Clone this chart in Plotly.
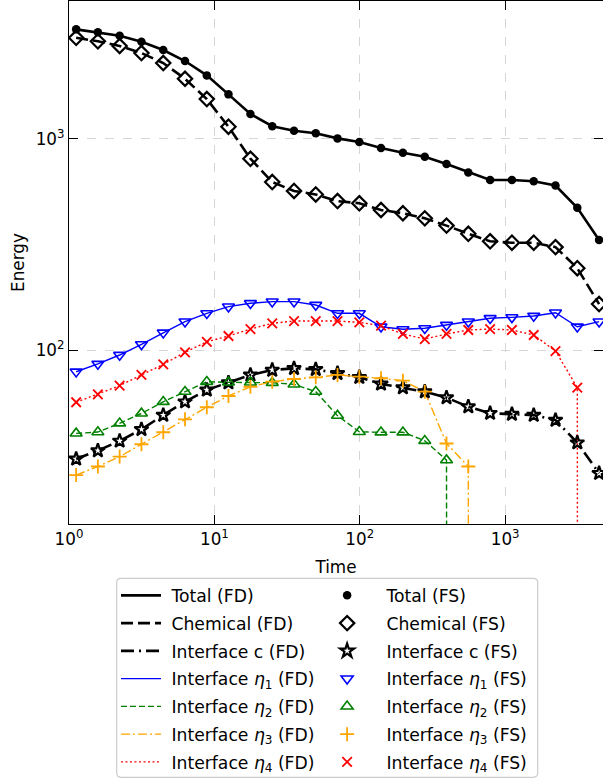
import plotly.graph_objects as go

# ---- data ----
time = [1.12, 1.58, 2.23, 3.15, 4.45, 6.28, 8.87, 12.5, 17.7, 25.0, 35.3, 49.8,
        70.3, 99.3, 140, 198, 280, 395, 558, 788, 1113, 1572, 2220, 3135, 4427]

total = [3294, 3190, 3070, 2875, 2630, 2333, 1995, 1622, 1309, 1146, 1091, 1061,
         1004, 965, 903, 859, 822, 759, 693, 638, 638, 629, 601, 471, 332]
chemical = [3006, 2891, 2748, 2545, 2282, 1923, 1542, 1140, 804, 624, 566, 545,
            507, 495, 460, 444, 420, 388, 355, 327, 322, 322, 307, 244, 165]
interface_c = [30.5, 33.4, 37.1, 42.1, 49.2, 56.9, 64.7, 70.0, 76.2, 80.4, 81.9, 81.0,
               77.6, 74.3, 69.1, 66.4, 63.5, 59.5, 53.9, 50.2, 49.7, 49.2, 46.6, 36.4, 26.1]
eta1 = [78.9, 85.9, 94.7, 106.4, 120.7, 136.2, 149.2, 160.4, 166.4, 169.4, 169.4, 163.3,
        149.2, 149.2, 128.9, 125.3, 126.7, 131.3, 136.2, 141.3, 142.8, 144.9, 150.2, 128.9, 136.2]
eta2 = [40.3, 40.9, 45.0, 50.1, 56.9, 63.5, 70.8, 70.3, 70.3, 70.0, 68.8, 63.5,
        48.9, 41.0, 40.8, 40.8, 37.2, 30.1]
eta3 = [25.6, 28.1, 31.3, 35.8, 40.8, 47.0, 53.6, 60.6, 67.0, 70.8, 72.9, 74.3,
        76.2, 74.8, 73.5, 71.6, 63.5, 36.1, 28.1]
eta4 = [56.6, 61.7, 67.8, 76.2, 85.6, 97.5, 109.4, 116.5, 125.7, 133.7, 137.1, 137.1,
        137.1, 135.2, 130.3, 119.1, 112.7, 119.1, 124.4, 125.7, 124.4, 117.8, 98.9, 66.4]

# FD curves vanish just after their last sampled value (time, value)
eta2_fd_end = [400, 0.001]
eta3_fd_end = [565, 0.001]
eta4_fd_end = [3175, 0.001]

x_tickvals = [1, 10, 100, 1000]
x_ticktext = ["10<sup>0</sup>", "10<sup>1</sup>", "10<sup>2</sup>", "10<sup>3</sup>"]
y_tickvals = [100, 1000]
y_ticktext = ["10<sup>2</sup>", "10<sup>3</sup>"]

FONT = "DejaVu Sans"
FS = 16.8
LFS = 17.2
NB = "\u00a0"
TH = "\u2009"

fig = go.Figure()

series = [
    ("Total", time, total, None, dict(color="black", width=2.6, dash="solid"),
     dict(symbol="circle", size=8.5, color="black", line=dict(width=0))),
    ("Chemical", time, chemical, None, dict(color="black", width=2.6, dash="12px,5px"),
     dict(symbol="diamond-open", size=11, color="black", line=dict(width=2.2, color="black"))),
    ("Interface c", time, interface_c, None, dict(color="black", width=2.6, dash="13px,5px,2px,5px"),
     dict(symbol="star-open", size=10.5, color="black", line=dict(width=2.2, color="black"))),
    ("Interface <i>η</i><sub>1</sub>", time, eta1, None, dict(color="#0000ff", width=1.4, dash="solid"),
     dict(symbol="triangle-down-open", size=10.5, color="#0000ff", line=dict(width=1.6, color="#0000ff"))),
    ("Interface <i>η</i><sub>2</sub>", time[:len(eta2)], eta2, eta2_fd_end,
     dict(color="#008000", width=1.4, dash="6px,3px"),
     dict(symbol="triangle-up-open", size=10.5, color="#008000", line=dict(width=1.6, color="#008000"))),
    ("Interface <i>η</i><sub>3</sub>", time[:len(eta3)], eta3, eta3_fd_end,
     dict(color="#ffa500", width=1.4, dash="9px,3px,2px,3px"),
     dict(symbol="cross-thin-open", size=10, color="#ffa500", line=dict(width=1.8, color="#ffa500"))),
    ("Interface <i>η</i><sub>4</sub>", time[:len(eta4)], eta4, eta4_fd_end,
     dict(color="#ff0000", width=1.4, dash="2px,2.5px"),
     dict(symbol="x-thin-open", size=9.5, color="#ff0000", line=dict(width=1.8, color="#ff0000"))),
]

for i, (name, t, v, end, line, marker) in enumerate(series):
    tf, vf = list(t), list(v)
    if end is not None:
        tf.append(end[0])
        vf.append(end[1])
    fig.add_trace(go.Scatter(x=tf, y=vf, mode="lines", line=line,
                             name=NB + f"{name} (FD)", legend="legend",
                             legendgroup=f"fd{i}"))
for i, (name, t, v, end, line, marker) in enumerate(series):
    fig.add_trace(go.Scatter(x=t, y=v, mode="markers", marker=marker,
                             name=NB * 2 + TH + f"{name} (FS)", legend="legend2",
                             legendgroup=f"fs{i}"))

axis_common = dict(
    type="log", showline=True, linecolor="black", linewidth=1.3, mirror="allticks",
    ticks="inside", ticklen=9, tickwidth=1.3, tickcolor="black",
    showgrid=True, gridcolor="#d6d6d6", gridwidth=1, griddash="dash",
    zeroline=False, tickfont=dict(family=FONT, size=FS, color="black"),
)

fig.update_xaxes(**axis_common, range=[0, 3.673], tickvals=x_tickvals, ticktext=x_ticktext,
                 title=dict(text="Time", font=dict(family=FONT, size=FS, color="black"), standoff=12))
fig.update_yaxes(**axis_common, range=[1.1765, 3.652], tickvals=y_tickvals, ticktext=y_ticktext,
                 title=dict(text="Energy", font=dict(family=FONT, size=FS, color="black"), standoff=6))

leg_common = dict(
    orientation="v", yanchor="top", xanchor="left", y=-0.1026,
    borderwidth=0, bgcolor="rgba(0,0,0,0)",
    font=dict(family=FONT, size=LFS, color="black"),
    itemwidth=40, tracegroupgap=2.4, traceorder="grouped",
)

# rounded legend frame (paper coords)
fx0, fx1, fy0, fy1, rx, ry = 0.0893, 0.8777, -0.1038, -0.4843, 0.008, 0.008
frame = (f"M {fx0+rx},{fy0} L {fx1-rx},{fy0} Q {fx1},{fy0} {fx1},{fy0-ry} "
         f"L {fx1},{fy1+ry} Q {fx1},{fy1} {fx1-rx},{fy1} L {fx0+rx},{fy1} "
         f"Q {fx0},{fy1} {fx0},{fy1+ry} L {fx0},{fy0-ry} Q {fx0},{fy0} {fx0+rx},{fy0} Z")

fig.update_layout(
    width=603, height=780,
    margin=dict(l=69, r=0, t=1, b=256),
    plot_bgcolor="white", paper_bgcolor="white",
    font=dict(family=FONT, size=FS, color="black"),
    legend=dict(**leg_common, x=0.088),
    legend2=dict(**leg_common, x=0.474),
    showlegend=True,
    shapes=[dict(type="path", path=frame, xref="paper", yref="paper",
                 line=dict(color="#cccccc", width=1.2), fillcolor="rgba(0,0,0,0)", layer="below")],
)

fig.write_html("out.html", config={"displayModeBar": False},
               post_script="document.body.style.margin='0';")
